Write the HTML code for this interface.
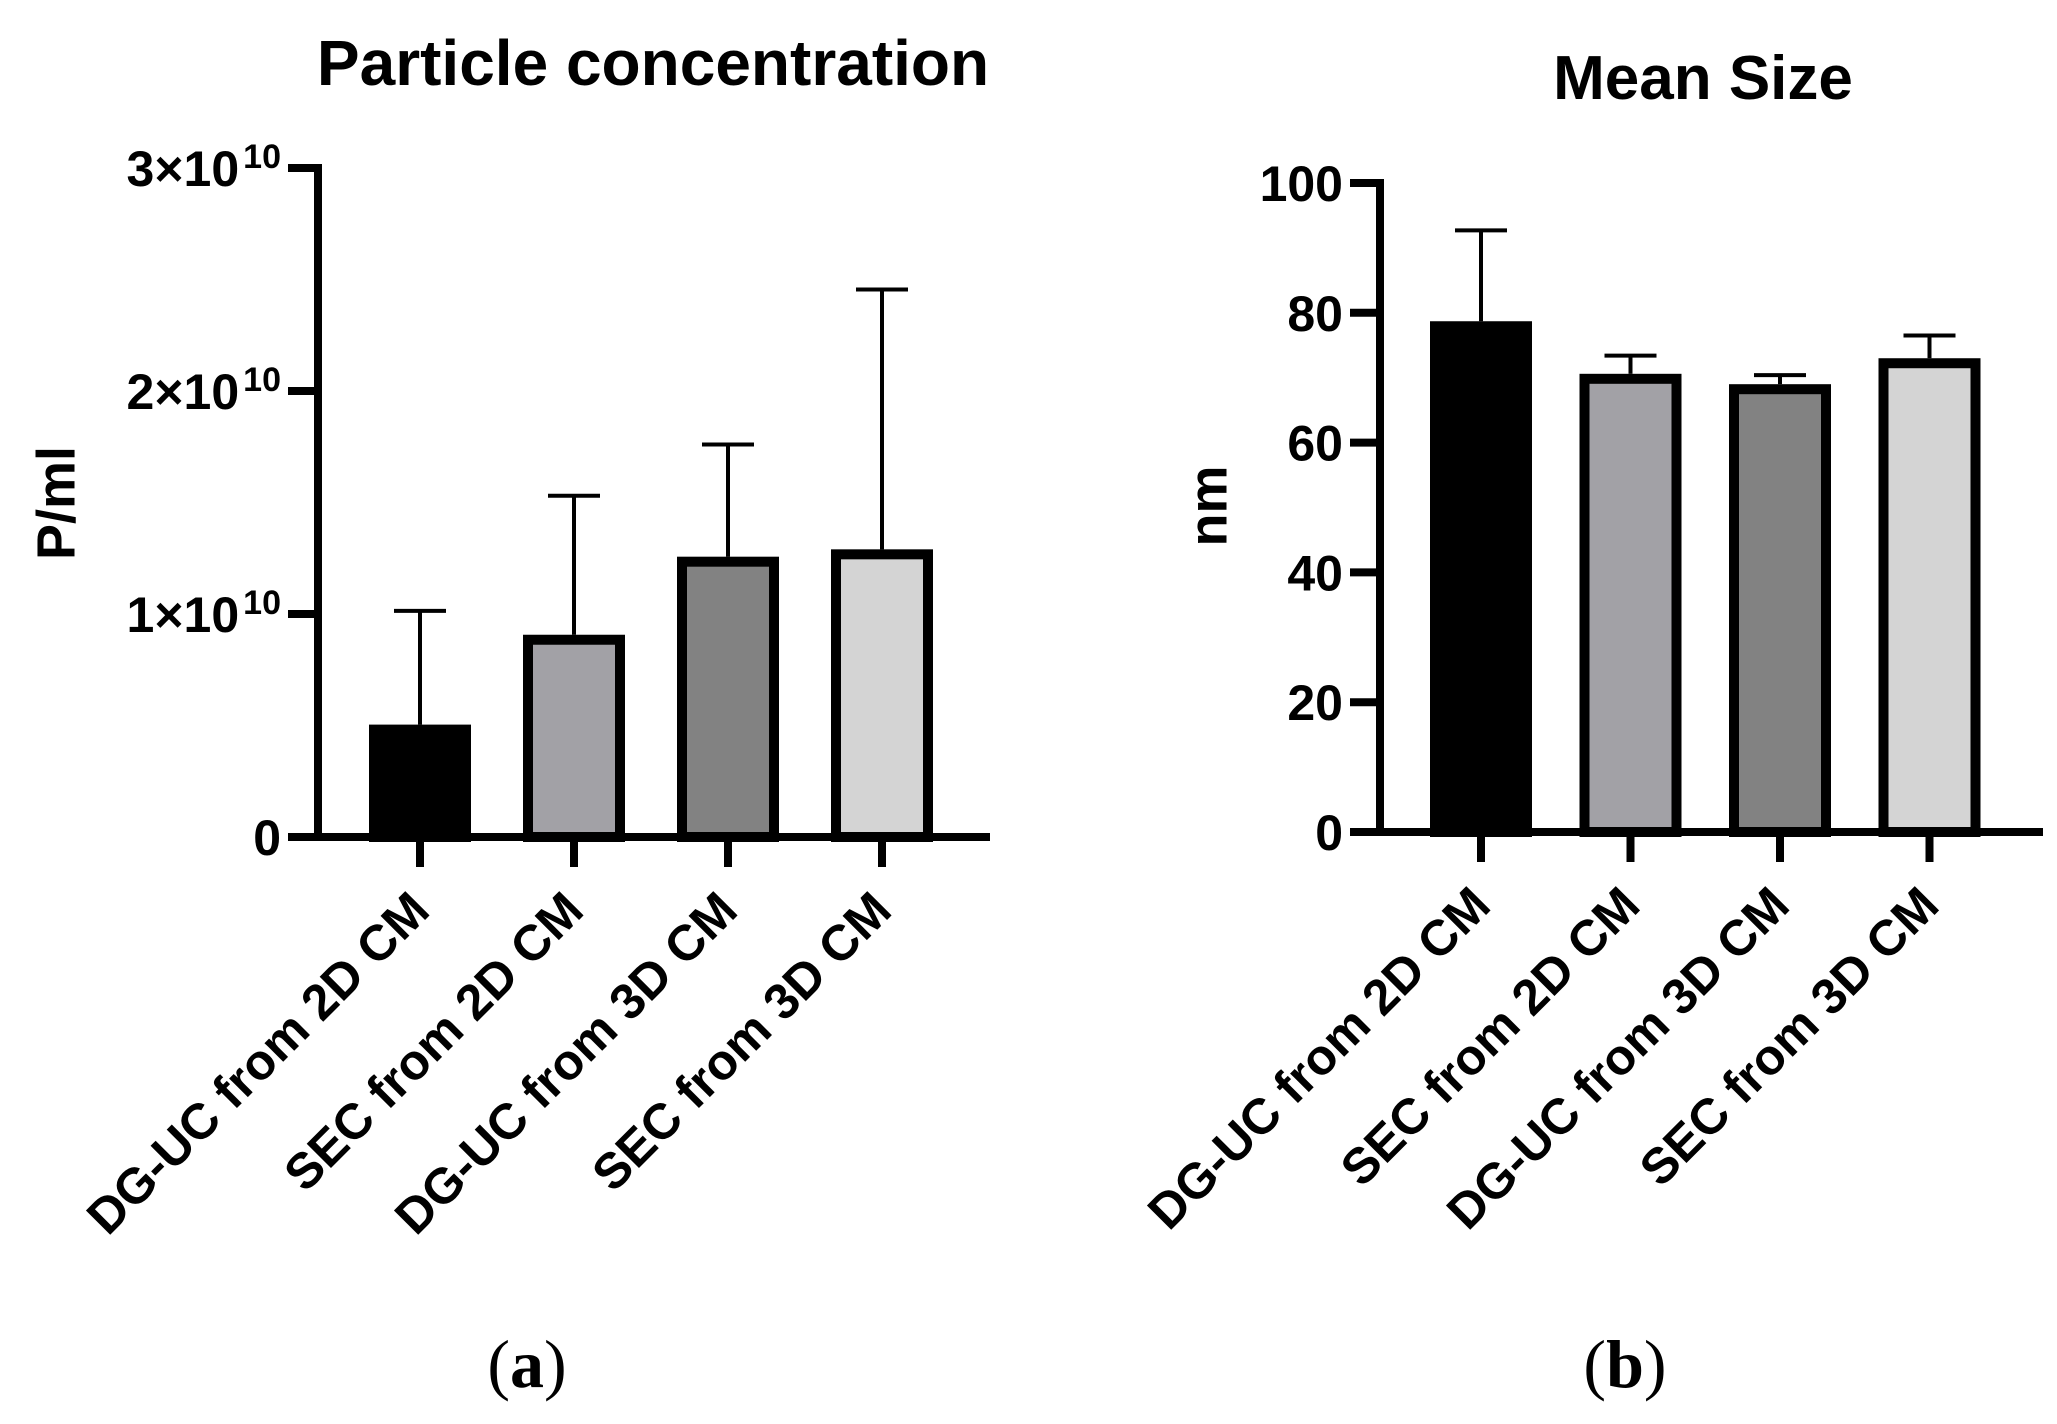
<!DOCTYPE html>
<html><head><meta charset="utf-8"><style>
html,body{margin:0;padding:0;background:#fff;}
svg{display:block;}
text{font-family:"Liberation Sans",Arial,sans-serif;font-weight:bold;fill:#000;}
.serif{font-family:"Liberation Serif","Times New Roman",serif;font-weight:normal;}
</style></head><body>
<svg id="fig" width="2057" height="1424" viewBox="0 0 2057 1424" xmlns="http://www.w3.org/2000/svg"></svg>
<script>
// ---- data ----
const categories = ["DG-UC from 2D CM","SEC from 2D CM","DG-UC from 3D CM","SEC from 3D CM"];
const fills = ["#000000","#a2a1a6","#828282","#d4d4d4"];
const concMeans = [0.504, 0.907, 1.257, 1.29];      // x1e10 P/ml
const concErrTop = [1.014, 1.53, 1.76, 2.455];
const concTicks = [0, 1, 2, 3];
const sizeMeans = [78.7, 70.6, 69.0, 73.0];          // nm
const sizeErrTop = [92.7, 73.4, 70.4, 76.5];
const sizeTicks = [0, 20, 40, 60, 80, 100];

const NS = "http://www.w3.org/2000/svg";
const svg = document.getElementById("fig");
function el(tag, attrs, parent){
  const e = document.createElementNS(NS, tag);
  for (const k in attrs) e.setAttribute(k, attrs[k]);
  (parent||svg).appendChild(e);
  return e;
}

function drawChart(cfg){
  const g = el("g", {});
  
  
  const y = v => cfg.y0 - (v - cfg.vmin) / (cfg.vmax - cfg.vmin) * (cfg.y0 - cfg.yTop);
  const x = i => cfg.x0 + i * cfg.step;

  const t = el("text", {x: cfg.titleX, y: cfg.titleY, "font-size": cfg.titleSize, "text-anchor": "middle"}, g);
  t.textContent = cfg.title;
  
  

  const yt = el("text", {x: 0, y: 0, "font-size": 54, "text-anchor": "middle",
     transform: `translate(${cfg.yTitleX},${cfg.yTitleY}) rotate(-90)`, "dominant-baseline": "middle"}, g);
  yt.textContent = cfg.yTitle;
  
  

  cfg.means.forEach((m, i) => {
    const cx = x(i), bw = 102, sw = 10;
    const top = y(m);
    const eb = el("g", {}, g);
    
    
    el("line", {x1: cx, x2: cx, y1: top, y2: y(cfg.err[i]), stroke: "#000", "stroke-width": 4}, eb);
    el("line", {x1: cx - 26, x2: cx + 26, y1: y(cfg.err[i]), y2: y(cfg.err[i]), stroke: "#000", "stroke-width": 4}, eb);
    const r = el("rect", {x: cx - bw/2 + sw/2, y: top + sw/2, width: bw - sw,
      height: Math.max(0, y(cfg.vmin) - top - sw/2), fill: fills[i], stroke: "#000", "stroke-width": sw}, g);
    
    
  });

  el("line", {x1: cfg.axX, x2: cfg.axX, y1: cfg.yTop - 4, y2: cfg.y0 + 4, stroke: "#000", "stroke-width": 8}, g);
  const xa = el("line", {x1: cfg.xStart, x2: cfg.xEnd, y1: cfg.y0, y2: cfg.y0, stroke: "#000", "stroke-width": 8}, g);
  
  

  cfg.ticks.forEach(v => {
    el("line", {x1: cfg.axX - 30, x2: cfg.axX, y1: y(v), y2: y(v), stroke: "#000", "stroke-width": 8}, g);
    const tl = el("text", {x: cfg.axX - 37, y: y(v) + 18, "font-size": 50, "text-anchor": "end"}, g);
    
    
    if (cfg.sci && v !== 0) {
      const a = el("tspan", {}, tl); a.textContent = v + "\u00d710";
      const b = el("tspan", {"font-size": 34, dy: -18, dx: 4}, tl); b.textContent = "10";
    } else {
      tl.textContent = v;
    }
  });

  categories.forEach((c, i) => {
    const cx = x(i);
    el("line", {x1: cx, x2: cx, y1: cfg.y0, y2: cfg.y0 + 30, stroke: "#000", "stroke-width": 8}, g);
    const lx = cx + 12, ly = cfg.y0 + 76;
    const lt = el("text", {x: 0, y: 0, "font-size": 50, "text-anchor": "end",
      transform: `translate(${lx},${ly}) rotate(-45)`}, g);
    lt.textContent = c;
    
    
  });

  const pl = el("text", {x: cfg.panelX, y: 1387, "font-size": 68, "text-anchor": "middle", "class": "serif"}, g);
  
  
  const p1 = el("tspan", {}, pl); p1.textContent = "(";
  const p2 = el("tspan", {"font-weight": "bold"}, pl); p2.textContent = cfg.panel;
  const p3 = el("tspan", {}, pl); p3.textContent = ")";
}

drawChart({name: "particle-concentration-chart", title: "Particle concentration", titleX: 653, titleY: 85, titleSize: 64,
  yTitle: "P/ml", yTitleX: 60, yTitleY: 503,
  means: concMeans, err: concErrTop, ticks: concTicks, vmin: 0, vmax: 3, sci: true,
  y0: 837, yTop: 168, axX: 318, xStart: 289, xEnd: 990, x0: 420, step: 154,
  panel: "a", panelX: 527});

drawChart({name: "mean-size-chart", title: "Mean Size", titleX: 1703, titleY: 99, titleSize: 62,
  yTitle: "nm", yTitleX: 1212, yTitleY: 506,
  means: sizeMeans, err: sizeErrTop, ticks: sizeTicks, vmin: 0, vmax: 100, sci: false,
  y0: 832, yTop: 183, axX: 1380, xStart: 1352, xEnd: 2043, x0: 1481, step: 149.5,
  panel: "b", panelX: 1625});
</script>
</body></html>
